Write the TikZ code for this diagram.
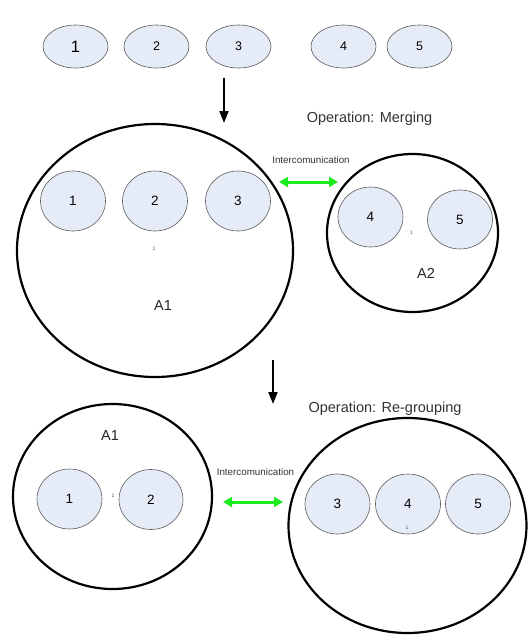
\documentclass[tikz,border=0pt]{standalone}
\usepackage{fontspec}
\setmainfont{Liberation Sans}
\usetikzlibrary{shapes.geometric,arrows.meta}
\definecolor{cellfill}{RGB}{230,236,247}
\definecolor{cellline}{RGB}{90,90,90}
\definecolor{linkgreen}{RGB}{30,235,30}
\tikzset{
  cell/.style={ellipse,draw=cellline,line width=0.6pt,fill=cellfill,inner sep=0pt,minimum width=65pt,minimum height=60pt,font=\fontsize{13.5}{14}\selectfont},
  topcell/.style={cell,minimum height=43pt,font=\fontsize{12.5}{13}\selectfont},
  group/.style={ellipse,draw=black,line width=2.2pt,inner sep=0pt},
  flow/.style={-{Triangle[length=12pt,width=9pt]},line width=1.8pt,black},
  link/.style={{Triangle[length=9pt,width=10pt]}-{Triangle[length=9pt,width=10pt]},line width=3pt,linkgreen},
  optitle/.style={font=\fontsize{14.5}{15}\selectfont,text=black!80},
  linklabel/.style={font=\fontsize{9.8}{10}\selectfont,text=black!80},
  grouplabel/.style={font=\fontsize{14.5}{15}\selectfont,text=black!85},
  tiny/.style={font=\fontsize{5}{5}\selectfont,text=black!70,inner sep=0pt}
}
\begin{document}
\begin{tikzpicture}[x=1pt,y=-1pt]
\useasboundingbox (0,0) rectangle (528,635);
% top row
\node[topcell,font=\fontsize{16.5}{17}\selectfont] (t1) at (75.5,46.5) {1};
\node[topcell] (t2) at (156.5,46.5) {2};
\node[topcell] (t3) at (238.5,46.5) {3};
\node[topcell] (t4) at (343.5,46.5) {4};
\node[topcell] (t5) at (419.5,46.5) {5};
\coordinate (f1s) at (224,78);
\coordinate (f1e) at (224,123);
\draw[flow] (f1s) -- (f1e);
\node[optitle] (op1) at (369.5,119) {Operation: Merging};
% merging
\node[group,minimum width=276pt,minimum height=253pt] (mA1) at (155,250.5) {};
\node[group,minimum width=171pt,minimum height=158pt] (mA2) at (412.5,233) {};
\node[cell] (m1) at (73,201) {1};
\node[cell] (m2) at (155,201) {2};
\node[cell] (m3) at (238,201) {3};
\node[cell] (m4) at (370.5,217) {4};
\node[cell,minimum height=59pt] (m5) at (460,219.5) {5};
\node[tiny] (mt1) at (154,249) {1};
\node[tiny] (mt2) at (411.5,232.5) {1};
\node[grouplabel] (mA1l) at (163,306) {A1};
\node[grouplabel] (mA2l) at (426,273) {A2};
\node[linklabel] (ml) at (311,160) {Intercomunication};
\coordinate (l1s) at (279,182);
\coordinate (l1e) at (338,182);
\draw[link] (l1s) -- (l1e);
\coordinate (f2s) at (273,360);
\coordinate (f2e) at (273,404);
\draw[flow] (f2s) -- (f2e);
\node[optitle] (op2) at (385,409) {Operation: Re-grouping};
% re-grouping
\node[group,minimum width=199pt,minimum height=185pt] (rA1) at (112.5,496.5) {};
\node[group,minimum width=238pt,minimum height=215pt] (rA2) at (407.5,525.5) {};
\node[cell] (r1) at (69.5,499) {1};
\node[cell,minimum width=64pt] (r2) at (151,499.5) {2};
\node[cell] (r3) at (337.5,504) {3};
\node[cell] (r4) at (408,504) {4};
\node[cell] (r5) at (478,504) {5};
\node[tiny] (rt1) at (113,496) {1};
\node[tiny] (rt2) at (407,528) {1};
\node[grouplabel] (rA1l) at (110,436) {A1};
\node[linklabel] (rl) at (255.5,471.5) {Intercomunication};
\coordinate (l2s) at (223,502);
\coordinate (l2e) at (283,502);
\draw[link] (l2s) -- (l2e);
\end{tikzpicture}
\end{document}
